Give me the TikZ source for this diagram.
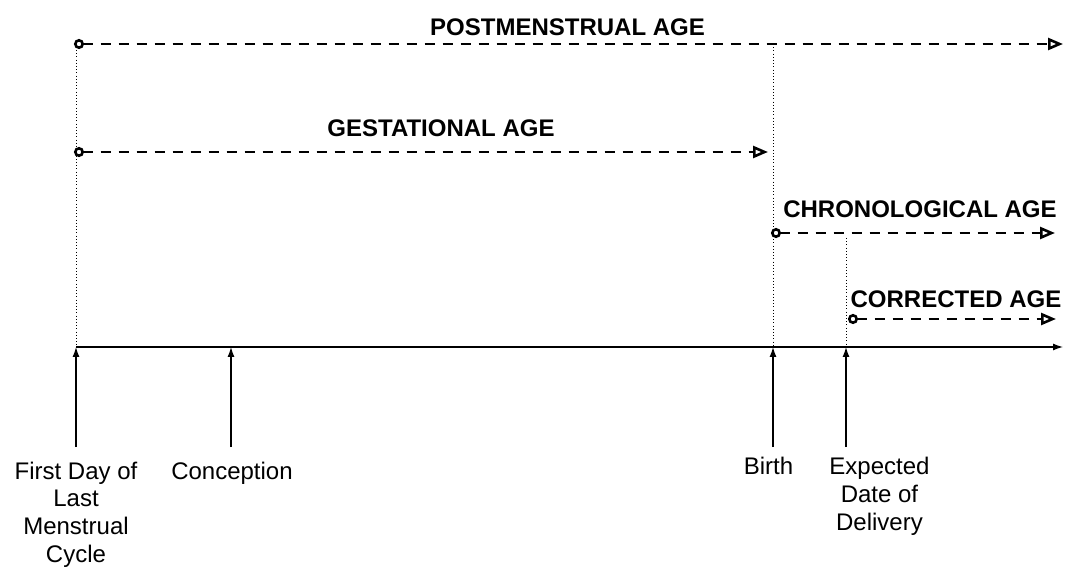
\documentclass[tikz,border=0pt]{standalone}
\usepackage{fontspec}
\setmainfont{Liberation Sans}
\usetikzlibrary{arrows.meta}
\begin{document}
\begin{tikzpicture}[x=1pt,y=-1pt,
  agebar/.style={line width=2.6pt, dash pattern=on 10pt off 8pt,
    {Circle[open,length=10pt,sep=0pt]}-{Triangle[open,length=15pt,width=12pt]}},
  agelabel/.style={anchor=base, inner sep=0pt, font=\fontsize{24}{28}\selectfont\bfseries},
  guide/.style={line width=1pt, dash pattern=on 1pt off 2.2pt},
  axisline/.style={line width=1.3pt, -{Latex[length=10pt,width=7pt]}},
  marker/.style={line width=1.3pt, -{Latex[length=10pt,width=7pt]}},
  event/.style={anchor=base, inner sep=0pt, align=center,
    font=\fontsize{24}{27.6}\selectfont}]
\useasboundingbox (0,0) rectangle (1069,569);

% time axis and event markers
\coordinate (lmp) at (76,347);
\coordinate (conc) at (231,347);
\coordinate (birth) at (773,347);
\coordinate (edd) at (846,347);
\coordinate (axend) at (1063,347);
\coordinate (lmpfoot) at (76,447);
\coordinate (concfoot) at (231,447);
\coordinate (birthfoot) at (773,447);
\coordinate (eddfoot) at (846,447);

\draw[axisline] (lmp) -- (axend);
\draw[marker] (lmpfoot) -- (lmp);
\draw[marker] (concfoot) -- (conc);
\draw[marker] (birthfoot) -- (birth);
\draw[marker] (eddfoot) -- (edd);

% vertical guides
\coordinate (lmptop) at (76,50);
\coordinate (birthtop) at (773,44);
\coordinate (eddtop) at (846,238);
\draw[guide] (lmptop) -- (lmp);
\draw[guide] (birthtop) -- (birth);
\draw[guide] (eddtop) -- (edd);

% age spans
\coordinate (pma0) at (74,44);
\coordinate (pma1) at (1063,44);
\coordinate (ga0) at (74,152);
\coordinate (ga1) at (768,152);
\coordinate (ca0) at (771,233);
\coordinate (ca1) at (1055,233);
\coordinate (cor0) at (848,319);
\coordinate (cor1) at (1056,319);

\draw[agebar] (pma0) -- (pma1);
\draw[agebar] (ga0) -- (ga1);
\draw[agebar] (ca0) -- (ca1);
\draw[agebar] (cor0) -- (cor1);

\node[agelabel] (pmalabel) at (567.5,36) {POSTMENSTRUAL AGE};
\node[agelabel] (galabel) at (441,137) {GESTATIONAL AGE};
\node[agelabel] (calabel) at (920,218) {CHRONOLOGICAL AGE};
\node[agelabel] (corlabel) at (956,308) {CORRECTED AGE};

% event names (base anchor sits on the last line)
\node[event] (lmptext) at (76,562) {First Day of\\Last\\Menstrual\\Cycle};
\node[event] (conctext) at (232,479) {Conception};
\node[event] (birthtext) at (768.5,474) {Birth};
\node[event] (eddtext) at (879.5,530) {Expected\\Date of\\Delivery};
\end{tikzpicture}
\end{document}
